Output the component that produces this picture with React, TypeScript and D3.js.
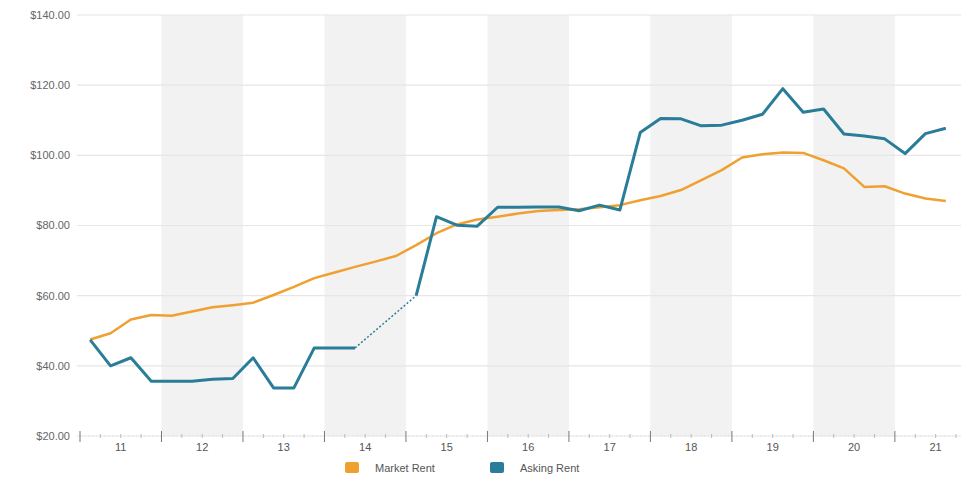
import React from "react";
import * as d3 from "d3";

// Quarterly rent per square foot, 2011 Q1 – 2021 Q3
const quarters: string[] = [
  "2011Q1","2011Q2","2011Q3","2011Q4",
  "2012Q1","2012Q2","2012Q3","2012Q4",
  "2013Q1","2013Q2","2013Q3","2013Q4",
  "2014Q1","2014Q2","2014Q3","2014Q4",
  "2015Q1","2015Q2","2015Q3","2015Q4",
  "2016Q1","2016Q2","2016Q3","2016Q4",
  "2017Q1","2017Q2","2017Q3","2017Q4",
  "2018Q1","2018Q2","2018Q3","2018Q4",
  "2019Q1","2019Q2","2019Q3","2019Q4",
  "2020Q1","2020Q2","2020Q3","2020Q4",
  "2021Q1","2021Q2","2021Q3",
];

const marketRent: number[] = [
  47.5, 49.3, 53.2, 54.5,
  54.3, 55.5, 56.7, 57.3,
  58.0, 60.2, 62.5, 65.0,
  66.6, 68.2, 69.7, 71.3,
  74.4, 77.8, 80.3, 81.7,
  82.5, 83.4, 84.1, 84.4,
  84.6, 85.2, 85.8, 87.2,
  88.4, 90.1, 92.9, 95.8,
  99.4, 100.3, 100.8, 100.7,
  98.6, 96.3, 91.0, 91.2,
  89.1, 87.7, 87.0,
];

// null marks quarters without asking-rent listings
const askingRent: (number | null)[] = [
  47.4, 40.0, 42.3, 35.6,
  35.6, 35.6, 36.2, 36.4,
  42.3, 33.7, 33.7, 45.1,
  45.1, 45.1, null, null,
  60.0, 82.5, 80.1, 79.8,
  85.2, 85.2, 85.3, 85.3,
  84.2, 85.8, 84.4, 106.5,
  110.5, 110.4, 108.4, 108.6,
  110.0, 111.7, 119.0, 112.3,
  113.2, 106.1, 105.5, 104.7,
  100.5, 106.2, 107.7,
];

const years: number[] = [2011, 2012, 2013, 2014, 2015, 2016, 2017, 2018, 2019, 2020, 2021];
const yTicks: number[] = [20, 40, 60, 80, 100, 120, 140];

const seriesNames = ["Market Rent", "Asking Rent"];
const seriesColors = ["#f0a030", "#2a7d98"];

const W = 961;
const H = 485;
const left = 80;
const right = 956;
const top = 15;
const bottom = 436;

export default function App() {
  const x = d3.scaleLinear().domain([2011, 2021.75]).range([left, right]);
  const y = d3.scaleLinear().domain([20, 140]).range([bottom, top]);

  const qx = (i: number) => {
    const [yr, q] = quarters[i].split("Q").map(Number);
    return x(yr + (q - 0.5) / 4);
  };

  const market = marketRent.map((v, i) => ({ i, v }));
  const asking = askingRent.map((v, i) => ({ i, v }));

  const line = d3
    .line<{ i: number; v: number | null }>()
    .defined((d) => d.v !== null)
    .x((d) => qx(d.i))
    .y((d) => y(d.v as number));

  // bridge across the missing asking-rent quarters
  const gaps: [number, number][] = [];
  let lastIdx = -1;
  askingRent.forEach((v, i) => {
    if (v !== null) {
      if (lastIdx >= 0 && i - lastIdx > 1) gaps.push([lastIdx, i]);
      lastIdx = i;
    }
  });

  const font = "'Liberation Sans', Arial, sans-serif";
  const minorTicks: number[] = [];
  for (let t = 2011; t <= 2021.75 + 1e-6; t += 0.25) minorTicks.push(t);

  return (
    <svg
      width={W}
      height={H}
      style={{ position: "absolute", left: 0, top: 0, background: "#fff" }}
      fontFamily={font}
    >
      {/* alternating year bands */}
      {years
        .filter((yr) => (yr - 2011) % 2 === 1)
        .map((yr) => (
          <rect
            key={yr}
            x={x(yr)}
            y={top}
            width={x(yr + 1) - x(yr)}
            height={bottom - top}
            fill="#f2f2f2"
          />
        ))}

      {/* horizontal grid */}
      {yTicks.map((t) => (
        <line
          key={t}
          x1={left - 3}
          x2={W}
          y1={y(t)}
          y2={y(t)}
          stroke="#e6e6e6"
          strokeWidth={1.2}
        />
      ))}

      {/* y labels */}
      {yTicks.map((t) => (
        <text
          key={t}
          x={70}
          y={y(t)}
          dy="0.35em"
          textAnchor="end"
          fontSize={11}
          fill="#666"
        >
          {d3.format("$.2f")(t)}
        </text>
      ))}

      {/* x axis ticks */}
      <line x1={left} x2={right} y1={bottom} y2={bottom} stroke="#e0e0e0" strokeWidth={1} strokeDasharray="1,3" />
      {minorTicks.map((t, i) => {
        const major = i % 4 === 0;
        return (
          <line
            key={i}
            x1={x(t)}
            x2={x(t)}
            y1={major ? bottom - 5 : bottom - 2}
            y2={major ? bottom + 6 : bottom + 2}
            stroke={major ? "#777" : "#bbb"}
            strokeWidth={1}
          />
        );
      })}
      {years.map((yr) => (
        <text
          key={yr}
          x={x(yr + 0.5)}
          y={bottom + 15}
          textAnchor="middle"
          fontSize={11}
          fill="#555"
        >
          {String(yr).slice(2)}
        </text>
      ))}

      {/* series */}
      <path d={line(market) ?? ""} fill="none" stroke={seriesColors[0]} strokeWidth={2.5} strokeLinejoin="round" />
      {gaps.map(([a, b], k) => (
        <line
          key={k}
          x1={qx(a)}
          y1={y(askingRent[a] as number)}
          x2={qx(b)}
          y2={y(askingRent[b] as number)}
          stroke={seriesColors[1]}
          strokeWidth={1.5}
          strokeDasharray="2,2"
        />
      ))}
      <path d={line(asking) ?? ""} fill="none" stroke={seriesColors[1]} strokeWidth={3} strokeLinejoin="round" />

      {/* legend */}
      {seriesNames.map((name, i) => {
        const lx = i === 0 ? 345 : 490;
        return (
          <g key={name}>
            <rect x={lx} y={462} width={14} height={11} rx={2} fill={seriesColors[i]} />
            <text x={lx + 30} y={468} dy="0.35em" fontSize={11} fill="#555">
              {name}
            </text>
          </g>
        );
      })}
    </svg>
  );
}
